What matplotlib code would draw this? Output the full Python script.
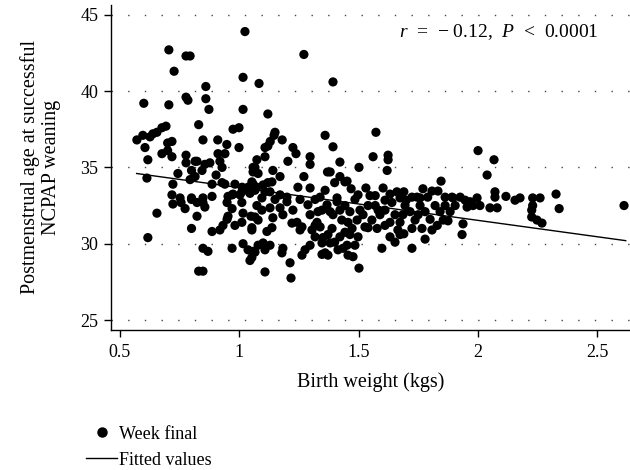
import numpy as np
import matplotlib
matplotlib.use("Agg")
import matplotlib.pyplot as plt
from matplotlib.lines import Line2D

plt.rcParams['font.family'] = ['Liberation Serif', 'DejaVu Serif']
plt.rcParams['mathtext.fontset'] = 'custom'
plt.rcParams['mathtext.rm'] = 'Liberation Serif'
plt.rcParams['mathtext.it'] = 'Liberation Serif:italic'

# ---- data ----
bw_a = [0.60, 0.705, 0.727, 0.777, 0.794, 0.777, 0.785, 0.705, 0.693, 0.676, 0.655, 0.638, 0.626,
        0.596, 0.571, 0.605, 0.617, 0.70, 0.718, 0.676, 0.718, 0.70, 0.777, 0.777, 0.743, 0.613,
        0.80, 0.794, 0.722, 0.718, 0.752, 0.722, 0.756, 0.773, 0.655, 0.80, 0.617, 0.80, 0.815]
pma_a = [39.2, 42.7, 41.3, 42.3, 42.3, 39.6, 39.4, 39.1, 37.7, 37.6, 37.3, 37.2, 37.0,
         37.1, 36.8, 36.3, 35.5, 36.6, 36.7, 35.9, 35.7, 36.1, 35.8, 35.3, 34.6, 34.3,
         34.8, 34.2, 33.9, 33.2, 33.0, 32.6, 32.7, 32.3, 32.0, 31.0, 30.4, 32.9, 35.4]

bw_b = [0.83, 0.86, 0.86, 0.873, 0.848, 0.91, 0.948, 0.974, 0.999, 0.999, 1.016, 1.016, 1.024,
        0.823, 0.856, 0.877, 0.911, 0.94, 0.919, 0.928, 0.844, 0.815, 0.903, 0.886, 0.928, 0.94,
        0.982, 1.012, 1.037, 1.058, 0.97, 1.003, 1.045, 0.80, 0.848, 0.886, 0.823, 0.848, 0.856,
        0.823, 0.886, 0.848, 0.869, 0.83, 0.848, 0.919, 0.932, 0.949, 0.953, 0.982, 1.011, 1.016,
        1.011, 0.949, 0.953, 0.974, 1.011, 0.97, 1.049, 1.053, 0.97, 1.016, 1.037, 1.058, 1.045,
        1.058, 1.058]
pma_b = [37.8, 40.3, 39.5, 38.8, 36.8, 36.8, 36.5, 37.5, 37.6, 36.3, 38.8, 40.9, 43.9,
         35.4, 35.2, 35.3, 35.9, 35.9, 35.4, 35.0, 34.8, 34.4, 34.5, 33.9, 34.0, 33.9,
         33.9, 33.7, 33.7, 33.9, 33.2, 33.2, 33.3, 33.0, 33.0, 33.1, 32.7, 32.7, 32.4,
         31.8, 30.8, 29.7, 29.5, 28.2, 28.2, 30.9, 31.2, 31.6, 31.8, 31.2, 31.4, 32.0,
         32.7, 32.7, 33.1, 33.25, 33.4, 32.3, 31.8, 30.9, 29.7, 30.0, 29.6, 29.5, 28.9,
         35.0, 34.7]

bw_c = [1.083, 1.12, 1.15, 1.146, 1.18, 1.13, 1.108, 1.12, 1.225, 1.238, 1.271, 1.204, 1.108,
        1.074, 1.066, 1.079, 1.141, 1.171, 1.271, 1.297, 1.297, 1.053, 1.074, 1.10, 1.12, 1.137,
        1.066, 1.108, 1.129, 1.171, 1.20, 1.246, 1.074, 1.095, 1.066, 1.079, 1.053, 1.129, 1.141,
        1.137, 1.116, 1.171, 1.20, 1.225, 1.255, 1.242, 1.221, 1.263, 1.255, 1.079, 1.10, 1.129,
        1.066, 1.108, 1.053, 1.183, 1.179, 1.213, 1.276, 1.263, 1.217, 1.108, 1.095, 1.15, 1.183,
        1.288]
pma_c = [40.5, 38.5, 37.3, 37.1, 36.8, 36.7, 36.3, 36.4, 36.3, 35.9, 42.4, 35.4, 35.7,
         35.5, 35.0, 34.6, 34.8, 34.4, 34.4, 35.7, 35.2, 34.05, 33.7, 33.85, 34.0, 34.05,
         33.5, 33.4, 33.4, 33.2, 33.05, 33.7, 32.5, 32.2, 31.75, 31.55, 31.05, 32.35, 31.7,
         31.05, 30.8, 32.35, 32.75, 32.2, 32.9, 31.4, 31.35, 31.1, 30.9, 29.9, 30.05, 29.9,
         29.45, 29.6, 29.1, 29.7, 29.4, 28.75, 29.6, 29.25, 27.75, 28.15, 33.0, 32.9, 31.9,
         32.55]

bw_d = [1.36, 1.393, 1.393, 1.422, 1.37, 1.381, 1.422, 1.40, 1.443, 1.297, 1.339, 1.36, 1.41,
        1.297, 1.326, 1.339, 1.318, 1.297, 1.368, 1.41, 1.393, 1.43, 1.389, 1.372, 1.40, 1.422,
        1.443, 1.452, 1.351, 1.347, 1.381, 1.36, 1.372, 1.347, 1.414, 1.435, 1.452, 1.469, 1.502,
        1.531, 1.498, 1.548, 1.464, 1.498, 1.485, 1.456, 1.477, 1.502, 1.527, 1.54, 1.318, 1.347,
        1.318, 1.381, 1.443, 1.464, 1.485, 1.506, 1.456, 1.494, 1.519, 1.54, 1.473, 1.422, 1.305,
        1.33]
pma_d = [37.1, 36.35, 40.6, 35.35, 34.7, 34.7, 34.4, 34.0, 34.05, 33.65, 33.05, 33.5, 33.0,
         31.9, 31.4, 31.1, 30.45, 29.9, 32.55, 32.75, 31.9, 31.55, 31.0, 30.6, 30.1, 30.45,
         30.75, 29.9, 30.4, 30.05, 30.05, 29.4, 29.25, 29.3, 29.6, 29.7, 34.1, 33.6, 35.0,
         33.65, 33.2, 33.15, 30.6, 30.45, 29.9, 29.25, 29.15, 28.4, 31.1, 31.05, 32.9, 32.2,
         31.2, 32.1, 32.5, 32.1, 32.9, 32.2, 31.4, 31.55, 31.9, 32.5, 31.0, 32.2, 30.9,
         32.1]

bw_e = [1.573, 1.561, 1.624, 1.624, 1.62, 1.603, 1.57, 1.632, 1.661, 1.69, 1.724, 1.745, 1.77,
        1.808, 1.833, 1.79, 1.598, 1.632, 1.653, 1.674, 1.69, 1.724, 1.779, 1.578, 1.611, 1.57,
        1.59, 1.556, 1.611, 1.64, 1.653, 1.674, 1.695, 1.716, 1.737, 1.758, 1.779, 1.80, 1.821,
        1.842, 1.724, 1.766, 1.808, 1.665, 1.611, 1.674, 1.758, 1.632, 1.70, 1.83, 1.582, 1.686,
        1.75]
pma_e = [37.3, 35.7, 35.8, 35.5, 34.8, 33.65, 33.15, 33.25, 33.4, 33.4, 33.05, 33.05, 33.6,
         33.45, 33.45, 33.05, 29.7, 30.45, 30.1, 30.6, 30.65, 29.7, 30.3, 31.0, 31.2, 32.5,
         31.9, 31.55, 32.2, 32.7, 31.9, 31.4, 32.5, 32.1, 31.55, 32.5, 32.1, 31.6, 32.5,
         32.1, 31.0, 31.0, 30.9, 30.9, 32.85, 33.0, 33.0, 31.4, 32.85, 31.2, 32.2, 31.9,
         31.9]

bw_f = [1.846, 1.863, 1.892, 1.896, 1.926, 1.947, 1.968, 1.997, 2.009, 1.98, 1.955, 2.072, 2.072,
        2.051, 2.081, 2.118, 2.156, 2.177, 2.23, 2.261, 2.23, 2.226, 2.226, 2.248, 2.269, 2.328,
        2.341, 2.613, 2.001, 2.068, 2.039, 1.938, 1.934, 1.863, 1.884, 1.855, 1.905, 1.875]
pma_f = [34.1, 33.05, 33.05, 33.0, 33.05, 32.85, 32.75, 33.0, 32.5, 32.5, 32.4, 33.4, 33.05,
         32.35, 32.35, 33.1, 32.85, 33.0, 33.0, 33.0, 32.5, 32.2, 31.75, 31.55, 31.35, 33.25,
         32.3, 32.5, 36.1, 35.5, 34.5, 31.3, 30.6, 32.5, 32.1, 31.55, 32.5, 31.5]

fit_bw = [0.57, 2.62]
fit_pma = [34.6, 30.2]

y_ticks = [25, 30, 35, 40, 45]
x_ticks = [0.5, 1, 1.5, 2, 2.5]
x_ticklabels = ["0.5", "1", "1.5", "2", "2.5"]

birth_weight = np.concatenate([bw_a, bw_b, bw_c, bw_d, bw_e, bw_f])
pma_weeks = np.concatenate([pma_a, pma_b, pma_c, pma_d, pma_e, pma_f])

# ---- figure ----
fig = plt.figure(figsize=(6.3, 4.7), dpi=100)
ax = fig.add_axes([0.176, 0.298, 0.824, 0.692])

for yv in y_ticks:
    ax.axhline(yv, color='#444444', linewidth=1.0, linestyle=(0, (1, 11)), zorder=0)

ax.scatter(birth_weight, pma_weeks, s=44, color='black', edgecolors='none', zorder=3)
ax.plot(fit_bw, fit_pma, color='black', linewidth=1.0, zorder=4)

ax.set_xlim(0.462, 2.638)
ax.set_ylim(24.35, 45.66)
ax.set_yticks(y_ticks)
ax.set_xticks(x_ticks)
ax.set_xticklabels(x_ticklabels)
ax.tick_params(axis='both', labelsize=13, direction='out', length=5, width=1, colors='black')
ax.tick_params(axis='x', pad=5)
ax.tick_params(axis='y', pad=4)

for side in ['top', 'right']:
    ax.spines[side].set_visible(False)
for side in ['left', 'bottom']:
    ax.spines[side].set_linewidth(1.0)

ax.set_xlabel("Birth weight (kgs)", fontsize=14.5, labelpad=8)
ax.set_ylabel("Postmenstrual age at successful\nNCPAP weaning", fontsize=14.5, labelpad=14,
              linespacing=1.15)

ax.text(0.94, 0.915, r"$r$  =  − 0.12,  $P$  <  0.0001", transform=ax.transAxes, ha='right',
        va='center', fontsize=14)

handles = [Line2D([], [], marker='o', linestyle='none', color='black', markersize=6.5),
           Line2D([], [], color='black', linewidth=1.0)]
fig.legend(handles, ["Week final", "Fitted values"], loc='upper left',
           bbox_to_anchor=(0.132, 0.1), frameon=False, fontsize=13,
           handlelength=1.75, handletextpad=0.1, labelspacing=0.5, borderpad=0.15,
           borderaxespad=0.0)

fig.savefig("out.png", dpi=100)
